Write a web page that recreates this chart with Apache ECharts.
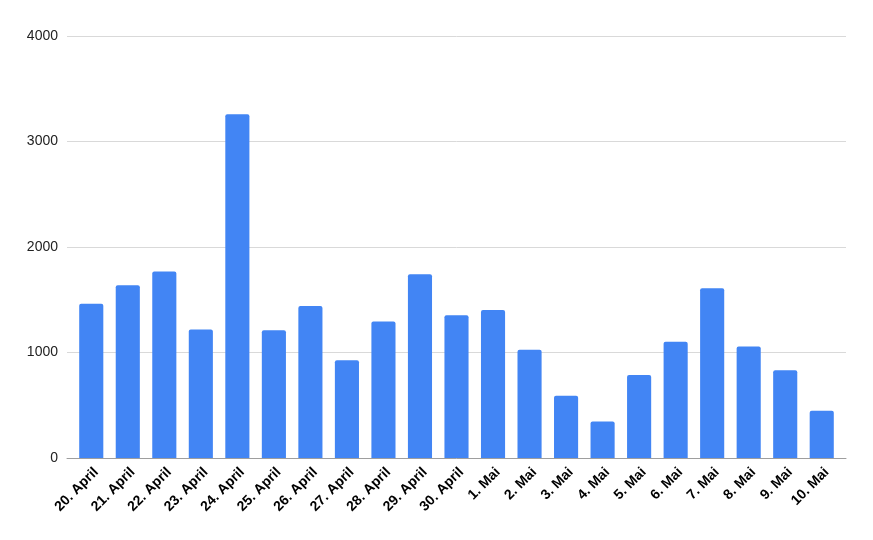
<!DOCTYPE html>
<html>
<head>
<meta charset="utf-8">
<script src="https://cdn.jsdelivr.net/npm/echarts@6/dist/echarts.min.js"></script>
<style>html,body{margin:0;padding:0;background:#fff}#c{width:873px;height:540px}</style>
</head>
<body>
<div id="c"></div>
<script>
var categories = ["20. April","21. April","22. April","23. April","24. April","25. April","26. April","27. April","28. April","29. April","30. April","1. Mai","2. Mai","3. Mai","4. Mai","5. Mai","6. Mai","7. Mai","8. Mai","9. Mai","10. Mai"];
var values = [1463,1637,1767,1217,3258,1210,1441,926,1293,1741,1353,1403,1027,591,345,787,1103,1608,1056,831,449];
var yTicks = [0,1000,2000,3000,4000];

var chart = echarts.init(document.getElementById('c'), null, {renderer:'canvas'});
var font = '"Liberation Sans", Arial, sans-serif';
chart.setOption({
  animation: false,
  backgroundColor: '#ffffff',
  grid: [
    {left: 67, right: 27, top: 36, bottom: 82},
    {left: 73, right: 33, top: 36, bottom: 82}
  ],
  xAxis: [
    {gridIndex: 0, type: 'value', min: 0, max: 1, show: true,
     axisLine: {show: true, lineStyle: {color: '#9e9e9e', width: 1}},
     axisTick: {show: false}, axisLabel: {show: false}, splitLine: {show: false}},
    {gridIndex: 1, type: 'category', data: categories,
     axisLine: {show: false}, axisTick: {show: false},
     axisLabel: {interval: 0, rotate: 45, verticalAlign: 'top', fontFamily: font, fontSize: 14, fontWeight: 'bold', color: '#000', margin: 7}}
  ],
  yAxis: [
    {gridIndex: 0, type: 'value', min: yTicks[0], max: yTicks[yTicks.length-1], interval: 1000,
     axisLine: {show: false}, axisTick: {show: false},
     axisLabel: {fontFamily: font, fontSize: 14, color: '#222', margin: 9, formatter: function(v){return String(v);}},
     splitLine: {lineStyle: {color: '#d9d9d9', width: 1}}},
    {gridIndex: 1, type: 'value', min: yTicks[0], max: yTicks[yTicks.length-1], interval: 1000,
     show: false, splitLine: {show: false}}
  ],
  series: [{
    type: 'bar', xAxisIndex: 1, yAxisIndex: 1, data: values,
    barCategoryGap: '34%',
    itemStyle: {color: '#4285F4', borderRadius: [2,2,0,0]}
  }]
});
</script>
</body>
</html>
